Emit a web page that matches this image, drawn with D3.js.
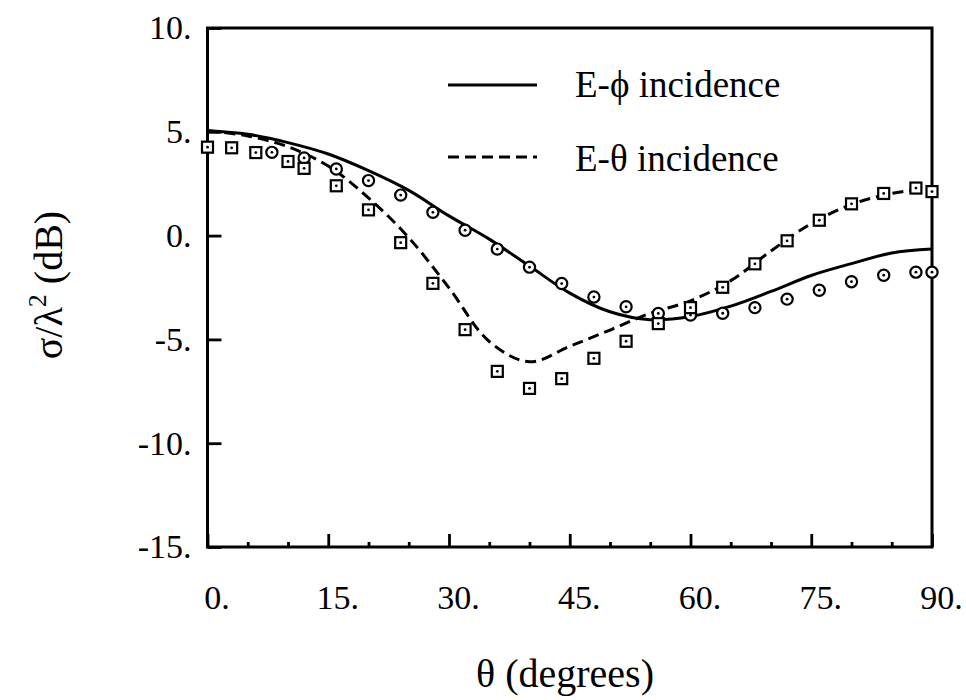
<!DOCTYPE html>
<html><head><meta charset="utf-8">
<script src="https://cdn.jsdelivr.net/npm/d3@7"></script>
<style>
body{margin:0;background:#fff}
svg{display:block}
text{font-family:"Liberation Serif","Times New Roman",Times,serif;fill:#000}
</style>
</head><body>
<svg id="chart" width="966" height="700"></svg>
<script>
// ---- data ----
const thetaCurve   = [0,5,10,15,20,25,30,35,40,45,50,55,60,65,70,75,80,85,90];
const ePhiCurve    = [5.05,4.88,4.48,3.93,3.13,2.18,0.95,-0.17,-1.47,-2.77,-3.67,-4.05,-3.9,-3.4,-2.69,-1.92,-1.35,-0.84,-0.65];
const eThetaCurve  = [5.05,4.8,4.28,3.35,1.82,-0.1,-2.52,-5.1,-6.08,-5.33,-4.55,-3.74,-3.14,-2.17,-0.74,0.58,1.5,2.03,2.3];

const ePhiMeasTheta = [8,12,16,20,24,28,32,36,40,44,48,52,56,60,64,68,72,76,80,84,88,90];
const ePhiMeas      = [4.01,3.74,3.21,2.65,1.95,1.12,0.26,-0.65,-1.52,-2.31,-2.96,-3.43,-3.75,-3.83,-3.74,-3.47,-3.06,-2.63,-2.22,-1.91,-1.76,-1.76];

const eThetaMeasTheta = [0,3,6,10,12,16,20,24,28,32,36,40,44,48,52,56,60,64,68,72,76,80,84,88,90];
const eThetaMeas      = [4.26,4.23,4.0,3.57,3.24,2.4,1.24,-0.34,-2.3,-4.53,-6.54,-7.36,-6.89,-5.91,-5.09,-4.24,-3.47,-2.49,-1.36,-0.25,0.74,1.53,2.03,2.29,2.12];

const xTickValues  = [0,15,30,45,60,75,90];
const xTickLabels  = ["0.","15.","30.","45.","60.","75.","90."];
const xMinorValues = [5,10,20,25,35,40,50,55,65,70,80,85];
const yTickValues  = [10,5,0,-5,-10,-15];
const yTickLabels  = ["10.","5.","0.","-5.","-10.","-15."];
const legendLabels = ["E-\u03D5 incidence","E-\u03B8 incidence"];
const xTitle = "\u03B8 (degrees)";

// ---- layout ----
const L = 207.5, R = 932, T = 28, B = 547;
const FONT = "'Liberation Serif','Times New Roman',Times,serif";
const svg = d3.select("#chart");
svg.append("rect").attr("width",966).attr("height",700).attr("fill","#fff");

const x = d3.scaleLinear().domain([0,90]).range([L,R]);
const y = d3.scaleLinear().domain([-15,10]).range([B,T]);

// minor x ticks
svg.append("g").attr("transform",`translate(0,${B})`)
  .call(d3.axisBottom(x).tickValues(xMinorValues).tickSizeInner(-5).tickSizeOuter(0).tickFormat(""))
  .call(g=>g.select(".domain").remove())
  .call(g=>g.selectAll("line").attr("stroke","#000").attr("stroke-width",2.8));

// major x ticks + labels
svg.append("g").attr("transform",`translate(0,${B})`)
  .call(d3.axisBottom(x).tickValues(xTickValues).tickSizeInner(-13).tickSizeOuter(0).tickPadding(38)
        .tickFormat((d,i)=>xTickLabels[i]))
  .call(g=>g.select(".domain").remove())
  .call(g=>g.selectAll("line").attr("stroke","#000").attr("stroke-width",2.8))
  .call(g=>g.selectAll("text").attr("font-size",34).attr("dx",9)
        .attr("font-family",FONT).attr("fill","#000"));

// y ticks + labels
svg.append("g").attr("transform",`translate(${L},0)`)
  .call(d3.axisLeft(y).tickValues(yTickValues).tickSizeInner(-14).tickSizeOuter(0).tickPadding(16)
        .tickFormat((d,i)=>yTickLabels[i]))
  .call(g=>g.select(".domain").remove())
  .call(g=>g.selectAll("line").attr("stroke","#000").attr("stroke-width",2.8))
  .call(g=>g.selectAll("text").attr("font-size",34)
        .attr("font-family",FONT).attr("fill","#000"));

// frame
svg.append("rect").attr("x",L).attr("y",T).attr("width",R-L).attr("height",B-T)
  .attr("fill","none").attr("stroke","#000").attr("stroke-width",3);

// curves
const line = d3.line().x(d=>x(d[0])).y(d=>y(d[1])).curve(d3.curveCatmullRom.alpha(0.5));
svg.append("path").datum(thetaCurve.map((t,i)=>[t,ePhiCurve[i]]))
  .attr("d",line).attr("fill","none").attr("stroke","#000").attr("stroke-width",3);
svg.append("path").datum(thetaCurve.map((t,i)=>[t,eThetaCurve[i]]))
  .attr("d",line).attr("fill","none").attr("stroke","#000").attr("stroke-width",3)
  .attr("stroke-dasharray","11,6");

// markers: circles (E-phi measured)
const cg = svg.append("g");
ePhiMeasTheta.forEach((t,i)=>{
  const cx = x(t), cy = y(ePhiMeas[i]);
  cg.append("circle").attr("cx",cx).attr("cy",cy).attr("r",5.6)
    .attr("fill","#fff").attr("stroke","#000").attr("stroke-width",2.2);
  cg.append("circle").attr("cx",cx).attr("cy",cy).attr("r",1.4).attr("fill","#000");
});
// markers: squares (E-theta measured)
const sg = svg.append("g");
eThetaMeasTheta.forEach((t,i)=>{
  const cx = x(t), cy = y(eThetaMeas[i]);
  sg.append("rect").attr("x",cx-5.5).attr("y",cy-5.5).attr("width",11).attr("height",11)
    .attr("fill","#fff").attr("stroke","#000").attr("stroke-width",2.2);
  sg.append("circle").attr("cx",cx).attr("cy",cy).attr("r",1.4).attr("fill","#000");
});

// legend
const lg = svg.append("g");
lg.append("line").attr("x1",448).attr("x2",537).attr("y1",85).attr("y2",85)
  .attr("stroke","#000").attr("stroke-width",3);
lg.append("line").attr("x1",448).attr("x2",537).attr("y1",157).attr("y2",157)
  .attr("stroke","#000").attr("stroke-width",3).attr("stroke-dasharray","11,6");
lg.append("text").attr("x",575).attr("y",97).attr("font-size",37).attr("font-family",FONT).text(legendLabels[0]);
lg.append("text").attr("x",575).attr("y",171).attr("font-size",37).attr("font-family",FONT).text(legendLabels[1]);

// axis titles
svg.append("text").attr("x",565).attr("y",687).attr("text-anchor","middle")
  .attr("font-size",40).attr("font-family",FONT).text(xTitle);

const yt = svg.append("text").attr("transform","translate(62,285) rotate(-90)")
  .attr("text-anchor","middle").attr("font-size",40).attr("font-family",FONT);
yt.append("tspan").text("\u03C3/\u03BB");
yt.append("tspan").attr("font-size",26).attr("dy",-16).text("2");
yt.append("tspan").attr("dy",16).text(" (dB)");
</script>
</body></html>
